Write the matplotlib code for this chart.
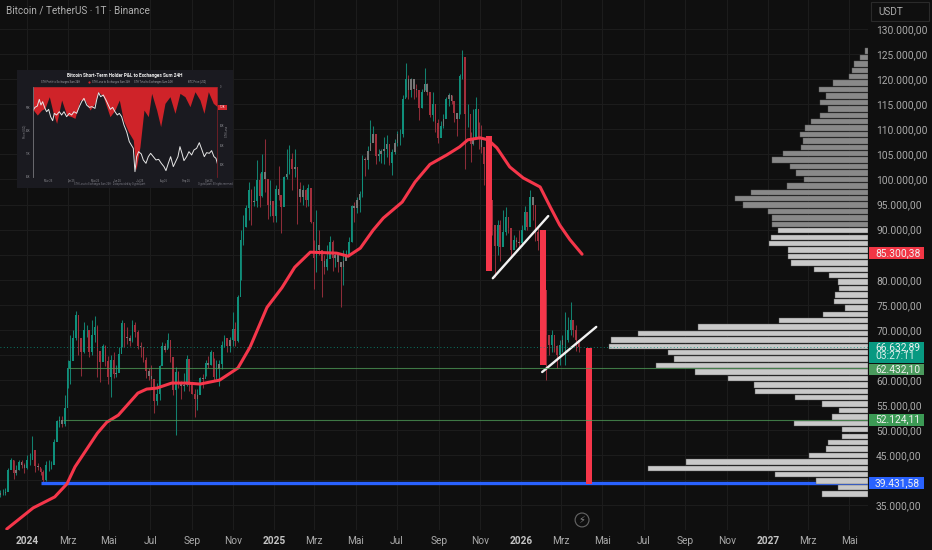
import numpy as np
import matplotlib
matplotlib.use('Agg')
import matplotlib.pyplot as plt

plt.rcParams['font.family'] = ['Roboto', 'DejaVu Sans']

# candles: one every 4 days, first one is 40 days before 2024-01-01 (prices in k)
first_day = -40
step_days = 4
first_open = 37.0
closes = [37.4,37.5,37.7,42,44,41.5,42,43.7,43,42.5,
    44,44,46,42.8,42.7,41.6,40,43,43,43,
    47.7,51.8,52,51.3,54.5,62.4,63.8,68.3,73,68.4,
    65.5,69.9,69.9,65.5,69,70.6,65.7,63.5,66.8,63.8,
    60.6,64,61.2,61.5,65.2,71.4,68.5,68.4,67.7,71,
    69.6,66.7,66.5,64,61.8,60.9,60.2,55.8,57.3,62.9,
    66.7,65.9,68,64.6,58.1,61.7,59.3,58.9,59,64.2,
    59,57.3,56.2,57,60.5,60.3,63.3,63.1,65.6,60.7,
    62.2,63.2,67,68.4,66.7,67.9,70.2,67.8,76.5,88,
    90.5,94.3,97.9,95.6,95.8,99.9,96.6,101.4,100,95,
    95.8,92.8,98,96.9,94.5,100.5,101,104,102,102.4,
    98,96.5,97.8,96,98.3,91.5,84.3,87,86,83.7,
    82.6,84.2,87.5,84.3,85,83.5,82.5,83.7,84.9,87.5,
    94.7,94.3,95.9,97,104,103.8,105.6,107.3,109,104.6,
    105,105.7,106,107,103.3,105.4,107.3,109,109,116,
    120,117.9,120,118,117.8,114.2,117.5,119,117.4,112.9,
    115,111.2,108.2,110.7,112,116,116.8,115.7,113.3,112,
    120.6,124.5,113,113,107,108,114,108,106.5,103,
    103,96,91,86.8,91,86.5,89.5,92.5,90.3,86,
    88,87.5,87.3,90,93.5,90.5,96.5,95,89.5,87.8,
    84.2,78,69,67,69,66.8,65,67,68,68,
    70,72,70,68,66.63]
highs = [38,38.2,38.5,42.5,44.5,44,43,44,44,43.5,
    45,45.5,48.9,44,43.5,42.5,42,43.8,44,43.8,
    48.2,52,52.8,52.9,57,64,69,70,73.8,72.5,
    68,71.5,71,69.5,72,72.7,71,65,67.2,67,
    64.7,65,65.5,63,66.5,71.9,70,70.6,69,71.9,
    71.6,70,67.5,66.5,64.5,62.5,63,58.5,59.5,63,
    67.5,67.3,69.4,66.8,62,62.7,61.8,59.9,61.4,64.9,
    61,59.7,58.3,58.3,60.6,61.3,64,64.7,66,64.4,
    64,64,67.7,69,67.8,68.6,73.6,71.5,77,89.9,
    93,94.9,99.5,98,98.7,103.9,101.2,105,108,97.5,
    99.9,95.5,98.9,102.7,95.8,100.7,106,106.9,105.3,106,
    101,99.5,98.8,98,99,96.5,88,94,90,84.3,
    85,87,88.7,88,85.5,84.5,83.5,86,86,88.5,
    95,95.5,96.5,97.7,104.9,104.4,106.6,111.9,110.7,106.2,
    106,106,108.5,108.9,106,106,108,109.7,110,116.8,
    123.2,120.9,120.2,119,119,115.8,118,122.3,119.3,116.7,
    117.4,112.6,112,111.7,113,116.4,117.2,116.9,114,112.5,
    121,125.9,122.5,115,109.5,114,116.4,111.5,110.8,104.5,
    107.5,97.5,93,88.5,92,91.9,94,94.6,92.5,90.4,
    89,88.5,90,91,94.7,92.5,97.9,95.6,91.2,90.6,
    88,79.5,72,69,70,68.3,67,68,69,73.5,
    72.5,75.5,72,71,68]
lows = [36.7,37,37,39.8,43.5,40.3,41,42,42.5,41.5,
    42.3,43,44.5,41.7,42,41,39.5,39.8,41.9,42.3,
    46.5,48.3,50.6,50.7,50.8,58.5,59.3,66,68,65,
    60.8,65.3,68.5,64.5,65,67.5,60.7,59.7,64.5,62.8,
    59.2,56.6,60.5,60.7,62.5,66.5,66.5,67.2,66.7,67.6,
    68.5,66.2,64.5,63.5,60.5,60,58.5,53.5,55,56,
    63.3,65.5,66.3,63.5,57,49,58.5,56.2,57.9,58.8,
    57.9,57.2,52.6,54,57.5,58.5,60.8,62.5,63,60,
    60.3,58.9,62.2,66.5,65.5,65.5,66.8,66.8,67.5,80,
    87,90.5,92,91,94.7,94.5,94.5,96.5,97.5,92.2,
    92.8,91.5,91.5,96,89.3,96,100,101,97.8,100.5,
    91.2,95.5,95,94.6,94.8,91.3,78.2,81.5,85,76.6,
    81.2,82,84.5,81.7,82.5,81.5,74.5,79,84,85,
    87.5,91.5,93.4,93.5,96.5,100.7,102,106.5,107.5,103.1,
    103.7,103.2,103,104.5,102.8,100.9,105,106.6,106.8,108.4,
    116.5,116,116.5,116,116.5,111.9,114.2,117.9,116.8,112.4,
    111.7,109.5,107.3,108.7,110.3,114.8,114.7,115,111.5,108.7,
    113,120,102,110.5,103.5,106.9,110.4,106,105.3,98.9,
    100.5,94,89,80.6,85,83.8,87.8,88.9,89.3,84.4,
    87,86.5,86.6,86.8,90,90,91,92,87.8,86,
    83,74,60,65,65.5,65.5,62.5,63,65.5,63,
    67.5,69,68.5,65.8,65.5]

# red moving average
ma_days = [-30,9,41,59,71,104,118,135,164,177,192,214,236,256,285,312,330,355,377,396,
    419,458,475,493,512,527,555,574,596,621,640,652,670,682,695,714,734,759,774,788,803,821]
ma_price = [30.3,34.5,36.7,39.3,42.7,49.4,51.6,53,57.4,58.2,58.4,59.4,59.4,59.2,60,62.4,66.6,74.5,78.4,82.5,
    85.5,85.3,84.7,86.3,89.9,92.3,95.5,99.5,103,104.9,106.5,107.9,108.3,107.9,106.3,102.5,100.3,98.5,94.5,90.9,88,85.1]

# drawn red bars and white trendlines
drop_days = [684, 763, 831]
drop_top = [108.7, 90, 66.4]
drop_bottom = [81.7, 63, 39.3]
trend_days = [[689, 771], [762, 842]]
trend_price = [[80.3, 92.7], [61.6, 70.6]]

# horizontal levels
last_price = 66.633
green_levels = [62.432, 52.124]
green_start = [61, 53]
blue_level = 39.432
blue_start = 20

# volume profile rows, top to bottom
vp_top = 125.6
vp_step = 1.28
vp_volume = [3,7.7,14.3,16,18.7,34.7,49,42,48.3,39.7,
    48,56.7,62.7,68,64.7,67.3,85.3,95.7,78,71.7,
    64,81.3,116.7,133.3,125.3,100.3,95.7,96.3,90.3,97.3,
    99,79.7,79.7,76.7,53.7,38.7,30.3,29,32.7,34,
    23,45,89.3,170,229.7,257.3,259,200,193.7,212,
    172.7,140,113.7,112.7,73,46.3,29,36,74.3,26,
    26,40,42.3,59,182,220.3,93.3,51.7,29.7,45.7]
vp_dark_rows = 28

# axis ticks
month_days = [0,60,121,182,244,305,366,425,486,547,609,670,731,790,851,912,974,1035,1096,1155,1216]
month_labels = ['2024','Mrz','Mai','Jul','Sep','Nov','2025','Mrz','Mai','Jul','Sep','Nov','2026',
    'Mrz','Mai','Jul','Sep','Nov','2027','Mrz','Mai']
price_ticks = [35,40,45,50,55,60,65,70,75,80,85,90,95,100,105,110,115,120,125,130]
hidden_price_labels = [40, 65, 85]

# small screenshot in the top left corner
inset_loss_x = [0,12,25,35,48,60,70,85,100,115,125,140,155,170,185,195,210,230,245,258,270,285,300,308,320,332,
    345,355,370,382,395,410,425,440,455,470,485,500,512,525,540,552]
inset_loss = [70,85,70,65,30,80,110,40,85,90,95,40,40,70,50,15,30,90,70,40,100,135,160,250,180,70,
    90,20,70,120,50,30,80,20,30,60,15,40,80,15,50,60]
inset_price_x = [0,5,12,18,23,28,35,40,46,52,
    58,63,70,78,85,92,100,108,115,122,
    130,138,145,152,160,168,176,185,190,196,
    202,210,218,225,231,238,245,252,258,265,
    272,280,288,294,300,305,310,316,324,330,
    338,345,352,360,368,376,384,392,398,405,
    412,420,427,434,440,446,452,460,467,475,
    482,490,498,506,513,520,528,535,542,548,
    552]
inset_price = [70,62,58,38,55,45,65,75,68,90,
    102,80,85,75,85,75,90,80,85,75,
    80,60,45,35,55,62,60,65,40,18,
    30,25,40,55,68,62,75,85,80,90,
    115,135,165,175,185,255,210,195,202,220,
    230,210,200,210,220,218,230,240,252,230,
    210,240,225,210,180,200,222,210,195,205,
    190,185,168,190,210,198,200,192,210,215,
    230]
inset_dates = ['Mar 25','Apr 25','Mai 25','Jun 25','Jul 25','Aug 25','Sep 25','Okt 25']

bg = '#0f0f0f'
grid_col = '#1d1d1d'
teal = '#089981'
red = '#f23645'
text_col = '#aaaaaa'

fig = plt.figure(figsize=(9.32, 5.5), dpi=100, facecolor=bg)
ax = fig.add_axes([0, 20 / 550, 868 / 932, 530 / 550], facecolor=bg)

# grid
for d in month_days:
    ax.axvline(d, color=grid_col, linewidth=0.7, zorder=0)
for p in price_ticks:
    ax.axhline(p, color=grid_col, linewidth=0.7, zorder=0)

# candles, the small ones blur to grey in the screenshot
days = first_day + step_days * np.arange(len(closes))
c = np.array(closes)
o = np.concatenate([[first_open], c[:-1]])
wick_colors = ['#12806f' if b >= a else '#8c2c38' for a, b in zip(o, c)]
body_colors = []
for a, b in zip(o, c):
    if abs(b - a) / b < 0.018:
        body_colors.append('#767676')
    elif b >= a:
        body_colors.append('#0f8f7b')
    else:
        body_colors.append('#a32f3c')
ax.vlines(days, lows, highs, colors=wick_colors, linewidth=0.75, zorder=2)
ax.bar(days, np.abs(c - o), bottom=np.minimum(o, c), width=2.4, color=body_colors, zorder=2)

# moving average and drawn shapes
ax.plot(ma_days, ma_price, color='#f5364a', linewidth=2.2, solid_capstyle='round', zorder=4)
ax.bar(drop_days, np.array(drop_top) - np.array(drop_bottom), bottom=drop_bottom, width=9,
       color='#f5364a', zorder=5)
for tx, ty in zip(trend_days, trend_price):
    ax.plot(tx, ty, color='#f2f2f2', linewidth=1.7, solid_capstyle='round', zorder=6)
ax.hlines(blue_level, blue_start, 1244, color='#2962ff', linewidth=2.4, zorder=3)

ax.set_xlim(-40, 1244)
ax.set_ylim(30.1, 135.78)

# volume profile, x in pixels from the right edge
vp = ax.twiny()
vp.set_xlim(868, 0)
row_price = vp_top - vp_step * np.arange(len(vp_volume))
row_colors = ['#898989'] * vp_dark_rows + ['#c9c9c9'] * (len(vp_volume) - vp_dark_rows)
vp.barh(row_price, vp_volume, height=vp_step * 0.84, color=row_colors, edgecolor='#555555', linewidth=0.3)
vp.hlines(last_price, -40, 1244, color=teal, linewidth=0.6, linestyle=(0, (1, 3)), transform=ax.transData)
for lev, start in zip(green_levels, green_start):
    vp.hlines(lev, start, 1244, color='#4f9c58', linewidth=0.8, alpha=0.75, transform=ax.transData)
vp.set_xlim(868, 0)
vp.axis('off')
ax.set_ylim(30.1, 135.78)

# axes text
ax.set_xticks(month_days)
ax.set_xticklabels(month_labels, fontsize=7.3, color=text_col)
for lab, name in zip(ax.get_xticklabels(), month_labels):
    if name.startswith('20'):
        lab.set_fontweight('bold')
        lab.set_color('#c4c4c4')
ax.yaxis.tick_right()
ax.set_yticks(price_ticks)
ax.set_yticklabels(['' if p in hidden_price_labels else f'{p * 1000:,.2f}'.replace(',', 'X').replace('.', ',').replace('X', '.')
                    for p in price_ticks], fontsize=7.4, color=text_col)
ax.tick_params(axis='both', length=0)
ax.tick_params(axis='y', pad=5.8)
ax.tick_params(axis='x', pad=4.6)
for s in ax.spines.values():
    s.set_visible(False)
for s in vp.spines.values():
    s.set_visible(False)

fig.text(6 / 932, 1 - 11 / 550, 'Bitcoin / TetherUS · 1T · Binance', color='#b0b0b0', fontsize=7.2, va='center')

# price tags on the right, x in axes fractions and y in price
tag_trans = ax.get_yaxis_transform()
tag_left = 869 / 868
tag_width = 55 / 868
tag_text_x = 875 / 868
def price_tag(top, bottom, color, labels, label_y):
    ax.add_patch(plt.Rectangle((tag_left, bottom), tag_width, top - bottom, transform=tag_trans,
                               facecolor=color, edgecolor='none', clip_on=False, zorder=10))
    for lab, y, col in zip(labels, label_y, ['#f0f0f0', '#d8efe9']):
        ax.text(tag_text_x, y, lab, transform=tag_trans, fontsize=7.4, color=col, va='center', ha='left',
                zorder=11, clip_on=False)

price_tag(86.5, 84.1, red, ['85.300,38'], [85.3])
price_tag(67.65, 63.45, teal, ['66.632,89', '03:27:11'], [66.6, 64.7])
price_tag(63.25, 61.0, '#4a9a5d', ['62.432,10'], [62.1])
price_tag(53.3, 50.9, '#3c9a55', ['52.124,11'], [52.124])
price_tag(40.6, 38.2, '#2962ff', ['39.431,58'], [39.432])

fig.patches.append(plt.Rectangle((871 / 932, 1 - 21 / 550), 58 / 932, 19 / 550, transform=fig.transFigure,
                                 facecolor=bg, edgecolor='#2a2a2a', linewidth=0.8))
fig.text(878 / 932, 1 - 12 / 550, 'USDT', color=text_col, fontsize=7.2, va='center')

# lightning button
ax.scatter([821], [32.1], s=100, facecolors='none', edgecolors='#666666', linewidths=0.8, zorder=6)
ax.text(821, 32.1, '\u26a1', color='#888888', fontsize=7, ha='center', va='center', family='DejaVu Sans', zorder=6)

# inset panel, positioned in pixels
panel = fig.add_axes([17 / 932, 1 - 188 / 550, 216 / 932, 118 / 550], facecolor='#1a1a20', zorder=5)
panel.set_xlim(17, 233)
panel.set_ylim(188, 70)
panel.set_xticks([])
panel.set_yticks([])
for s in panel.spines.values():
    s.set_visible(False)
panel.text(125, 76, 'Bitcoin Short-Term Holder P&L to Exchanges Sum 24H', color='#eeeeee', fontsize=3.4,
           fontweight='bold', ha='center', va='center')
legend_items = ['STH Profit to Exchanges Sum 24H', 'STH Loss to Exchanges Sum 24H',
                'STH Total to Exchanges Sum 24H', 'BTC Price [USD]']
legend_x = [41, 92, 134, 188]
for lx, item in zip(legend_x, legend_items):
    panel.text(lx, 81.7, item, color='#9a9aa0', fontsize=1.9, va='center')
panel.scatter([89], [81.7], s=2.5, color='#d4252c', linewidths=0)
panel.text(125, 131, 'CryptoQuant', color='#2a2a30', fontsize=6, ha='center', va='center')
for ty, lab in zip([108, 131, 154, 177], ['90K', '80K', '70K', '60K']):
    panel.text(30, ty, lab, color='#8a8a90', fontsize=1.9, ha='right', va='center')
for ty, lab in zip([86.7, 126, 146, 165], ['0', '40K', '60K', '80K']):
    panel.text(220, ty, lab, color='#8a8a90', fontsize=1.9, ha='left', va='center')
for tx, lab in zip([48, 71, 95, 117, 140, 163, 186, 209], inset_dates):
    panel.text(tx, 181, lab, color='#8a8a90', fontsize=1.9, ha='center', va='center')
panel.text(24, 131, 'Price (USD)', color='#8a8a90', fontsize=1.9, rotation=90, ha='center', va='center')
panel.text(227, 131, 'STH Loss', color='#8a8a90', fontsize=1.9, rotation=90, ha='center', va='center')
panel.text(110, 184, 'STH Loss to Exchanges Sum 24H · Data provided by CryptoQuant', color='#777780', fontsize=1.8, ha='center', va='center')
panel.text(215, 184, 'CryptoQuant. All rights reserved', color='#777780', fontsize=1.8, ha='center', va='center')
panel.add_patch(plt.Rectangle((218, 105), 9, 5, facecolor='#d4252c', edgecolor='none'))
panel.text(222.5, 107.5, '-12K', color='#ffffff', fontsize=1.9, ha='center', va='center')

inner = fig.add_axes([33.3 / 932, 1 - 177.3 / 550, 184 / 932, 90.6 / 550], facecolor='#1a1a20', zorder=6)
inner.fill_between(inset_loss_x, 0, inset_loss, color='#cf2329', linewidth=0)
inner.plot(inset_price_x, inset_price, color='#e6e6e6', linewidth=0.7)
inner.set_xlim(0, 552)
inner.set_ylim(272, 0)
inner.set_xticks([])
inner.set_yticks([])
for s in inner.spines.values():
    s.set_visible(False)
inner.spines['left'].set_visible(True)
inner.spines['left'].set_color('#77777c')
inner.spines['left'].set_linewidth(0.6)
inner.spines['right'].set_visible(True)
inner.spines['right'].set_color('#8a2028')
inner.spines['right'].set_linewidth(0.5)

fig.savefig('out.png', dpi=100, facecolor=bg)
